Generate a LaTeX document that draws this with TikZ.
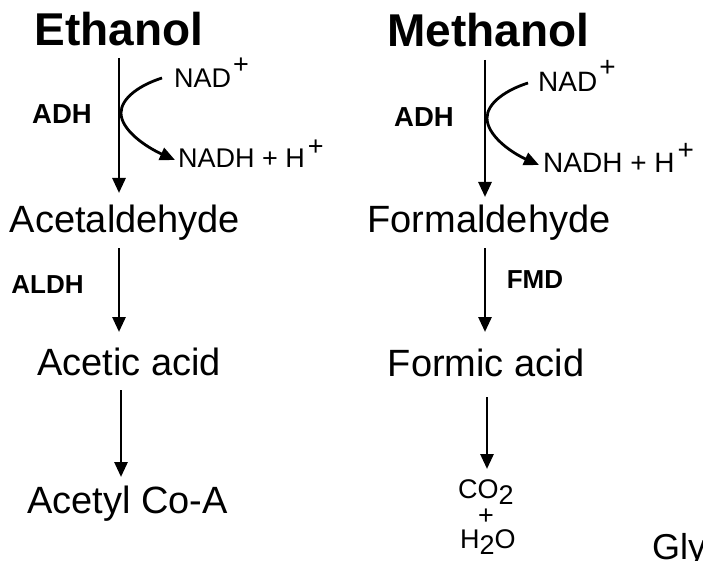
\documentclass[tikz,border=0pt]{standalone}
\usepackage{fontspec}
\setmainfont{Liberation Sans}
\usetikzlibrary{arrows.meta}
\tikzset{
  txt/.style={inner sep=0pt, anchor=base, font=\fontsize{38}{40}\selectfont},
  ttl/.style={inner sep=0pt, anchor=base, font=\fontsize{46}{48}\selectfont\bfseries},
  enz/.style={inner sep=0pt, anchor=base, font=\fontsize{27.5}{29}\selectfont\bfseries},
  cof/.style={inner sep=0pt, anchor=base west, font=\fontsize{27}{29}\selectfont},
  small/.style={inner sep=0pt, anchor=base west, font=\fontsize{27}{29}\selectfont},
  arr/.style={line width=2.8pt, -{Triangle[length=15pt,width=13pt]}},
  carr/.style={line width=2.8pt, -{Triangle[length=15pt,width=13pt]}}
}
\newcommand{\plusup}[2]{\hspace{#2}\raisebox{#1}{+}}
\newcommand{\lowtwo}{\raisebox{-6pt}{2}}
\begin{document}
\begin{tikzpicture}[x=1pt,y=-1pt]
\useasboundingbox (0,0) rectangle (703,561);
\clip (0,0) rectangle (703,561);
% ---- left column ----
\node[ttl] (eth) at (119,46) {Ethanol};
\node[enz] (adh1) at (62,124) {ADH};
\node[cof] (nad1) at (174,88) {NAD\plusup{14.5pt}{2pt}};
\node[cof] (nadh1) at (178,168) {NADH + H\plusup{12.5pt}{3pt}};
\node[txt] (ald) at (125,233) {Acetaldehyde};
\node[enz, font=\fontsize{26}{28}\selectfont\bfseries] (aldh) at (47.5,293) {ALDH};
\node[txt] (aca) at (129,375) {Acetic acid};
\node[txt] (acoa) at (127.5,513) {Acetyl Co-A};
\coordinate (l1a) at (119,58);  \coordinate (l1b) at (119,193);
\coordinate (l2a) at (119,248); \coordinate (l2b) at (119,332);
\coordinate (l3a) at (121,390); \coordinate (l3b) at (121,477);
\draw[arr] (l1a) -- (l1b);
\draw[arr] (l2a) -- (l2b);
\draw[arr] (l3a) -- (l3b);
\coordinate (c1s) at (162,78);
\coordinate (c1m) at (121,113);
\coordinate (c1e) at (175,160);
\draw[carr] (c1s) .. controls (140,85) and (121,98) .. (c1m)
  .. controls (121,130) and (146,147) .. (c1e);
% ---- right column ----
\node[ttl] (meth) at (488.5,47) {Methanol};
\node[enz] (adh2) at (424,127) {ADH};
\node[cof, font=\fontsize{28}{30}\selectfont] (nad2) at (538,92) {NAD\plusup{15pt}{2pt}};
\node[cof, font=\fontsize{28}{30}\selectfont] (nadh2) at (543,173) {NADH + H\plusup{13pt}{3pt}};
\node[txt] (fald) at (489,233) {Formaldehyde};
\node[enz, font=\fontsize{26}{28}\selectfont\bfseries] (fmd) at (535,288) {FMD};
\node[txt] (fac) at (486,376) {Formic acid};
\node[small, text depth=3pt] (co2) at (458,498) {CO\lowtwo};
\node[small, anchor=base, text height=12pt, text depth=0pt] (plus) at (486,524) {+};
\node[small] (h2o) at (460,548) {H\lowtwo O};
\coordinate (r1a) at (485,60);  \coordinate (r1b) at (485,197);
\coordinate (r2a) at (485,248); \coordinate (r2b) at (485,332);
\coordinate (r3a) at (487,397); \coordinate (r3b) at (487,469);
\draw[arr] (r1a) -- (r1b);
\draw[arr] (r2a) -- (r2b);
\draw[arr] (r3a) -- (r3b);
\coordinate (c2s) at (528,83);
\coordinate (c2m) at (487,118);
\coordinate (c2e) at (539,165);
\draw[carr] (c2s) .. controls (506,90) and (487,103) .. (c2m)
  .. controls (487,135) and (510,152) .. (c2e);
% ---- cut-off text ----
\node[inner sep=0pt, anchor=base west, font=\fontsize{36}{38}\selectfont] (gly) at (652,559) {Gly};
\end{tikzpicture}
\end{document}
